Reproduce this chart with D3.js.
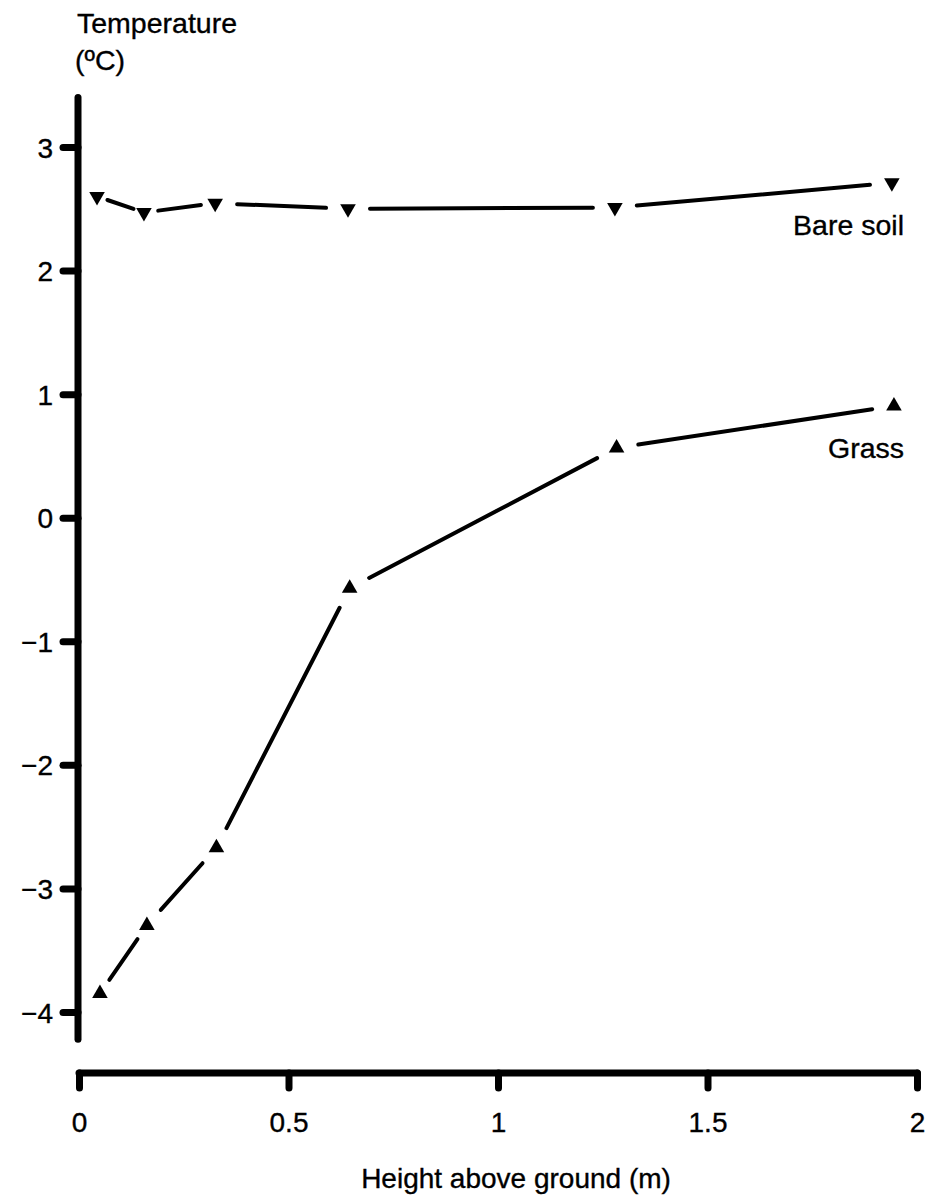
<!DOCTYPE html>
<html>
<head>
<meta charset="utf-8">
<script src="https://cdn.jsdelivr.net/npm/d3@7"></script>
<style>
  body { margin: 0; background: #fff; }
  text { font-family: "Liberation Sans", Arial, Helvetica, sans-serif; fill: #000; stroke: #000; stroke-width: 0.35px; }
</style>
</head>
<body>
<div id="chart"></div>
<script>
// Data
const heights = [0.043, 0.155, 0.325, 0.642, 1.279, 1.94];
const bareSoil = [2.60, 2.47, 2.545, 2.50, 2.51, 2.71];
const grassHeights = [0.05, 0.162, 0.328, 0.646, 1.283, 1.945];
const grass = [-3.85, -3.30, -2.67, -0.57, 0.565, 0.905];
const xTicks = [0, 0.5, 1, 1.5, 2];
const yTicks = [3, 2, 1, 0, -1, -2, -3, -4];

const width = 936;
const height = 1197;

const svg = d3.select("#chart")
  .append("svg")
    .attr("width", width)
    .attr("height", height);

const x = d3.scaleLinear().domain([0, 2]).range([79, 917]);
const y = d3.scaleLinear().domain([-4, 3]).range([1012, 147]);
const xAxisY = 1073;

// Y axis: long thick line with short ticks
svg.append("line")
  .attr("x1", x(0) - 1).attr("x2", x(0) - 1)
  .attr("y1", y(3.4)).attr("y2", y(-4.22))
  .attr("stroke", "#000")
  .attr("stroke-width", 7)
  .attr("stroke-linecap", "round");

const yAxis = svg.append("g")
  .attr("transform", `translate(${x(0) - 1},0)`)
  .call(d3.axisLeft(y)
    .tickValues(yTicks)
    .tickSize(15)
    .tickPadding(10)
    .tickFormat(d => d < 0 ? "\u2212" + Math.abs(d) : String(d)));

yAxis.select(".domain").remove();
yAxis.selectAll(".tick line")
  .attr("stroke-width", 7)
  .attr("stroke-linecap", "round");
yAxis.selectAll(".tick text")
  .style("font-size", "28px")
  .attr("dy", "0.36em");

// X axis
svg.append("line")
  .attr("x1", x(0)).attr("x2", x(2))
  .attr("y1", xAxisY).attr("y2", xAxisY)
  .attr("stroke", "#000")
  .attr("stroke-width", 7)
  .attr("stroke-linecap", "round");

const xAxis = svg.append("g")
  .attr("transform", `translate(0,${xAxisY})`)
  .call(d3.axisBottom(x)
    .tickValues(xTicks)
    .tickSize(15)
    .tickPadding(24)
    .tickFormat(d3.format("")));

xAxis.select(".domain").remove();
xAxis.selectAll(".tick line")
  .attr("stroke-width", 7)
  .attr("stroke-linecap", "round");
xAxis.selectAll(".tick text")
  .style("font-size", "28px");

// Axis titles
svg.append("text")
  .attr("x", 77).attr("y", 33)
  .style("font-size", "28.5px")
  .text("Temperature");
svg.append("text")
  .attr("x", 75).attr("y", 70)
  .style("font-size", "28.5px")
  .text("(\u00BAC)");
svg.append("text")
  .attr("x", (x(0) + x(2)) / 2 + 18).attr("y", 1188)
  .attr("text-anchor", "middle")
  .style("font-size", "28px")
  .text("Height above ground (m)");

// Series: line segments broken around each marker
const drawSeries = (xs, ys, symbolType, rotate, label, labelDy) => {
  const pts = xs.map((d, i) => [x(d), y(ys[i])]);
  const g = svg.append("g");

  d3.pairs(pts).forEach(([a, b]) => {
    const dx = b[0] - a[0], dy = b[1] - a[1];
    const len = Math.hypot(dx, dy);
    const ux = dx / len, uy = dy / len;
    // gap around markers, smaller on short segments
    const gap = Math.min(22, Math.max(11, len * 0.2));
    g.append("line")
      .attr("x1", a[0] + ux * gap).attr("y1", a[1] + uy * gap)
      .attr("x2", b[0] - ux * gap).attr("y2", b[1] - uy * gap)
      .attr("stroke", "#000")
      .attr("stroke-width", 4)
      .attr("stroke-linecap", "round");
  });

  g.selectAll("path.marker")
    .data(pts)
    .enter().append("path")
      .attr("class", "marker")
      .attr("d", d3.symbol().type(symbolType).size(105))
      .attr("transform", d => `translate(${d[0]},${d[1]}) rotate(${rotate})`)
      .attr("fill", "#000");

  const last = pts[pts.length - 1];
  svg.append("text")
    .attr("x", x(2) - 13)
    .attr("y", last[1] + labelDy)
    .attr("text-anchor", "end")
    .style("font-size", "28.5px")
    .text(label);
};

drawSeries(heights, bareSoil, d3.symbolTriangle, 180, "Bare soil", 52);
drawSeries(grassHeights, grass, d3.symbolTriangle, 0, "Grass", 52);
</script>
</body>
</html>
